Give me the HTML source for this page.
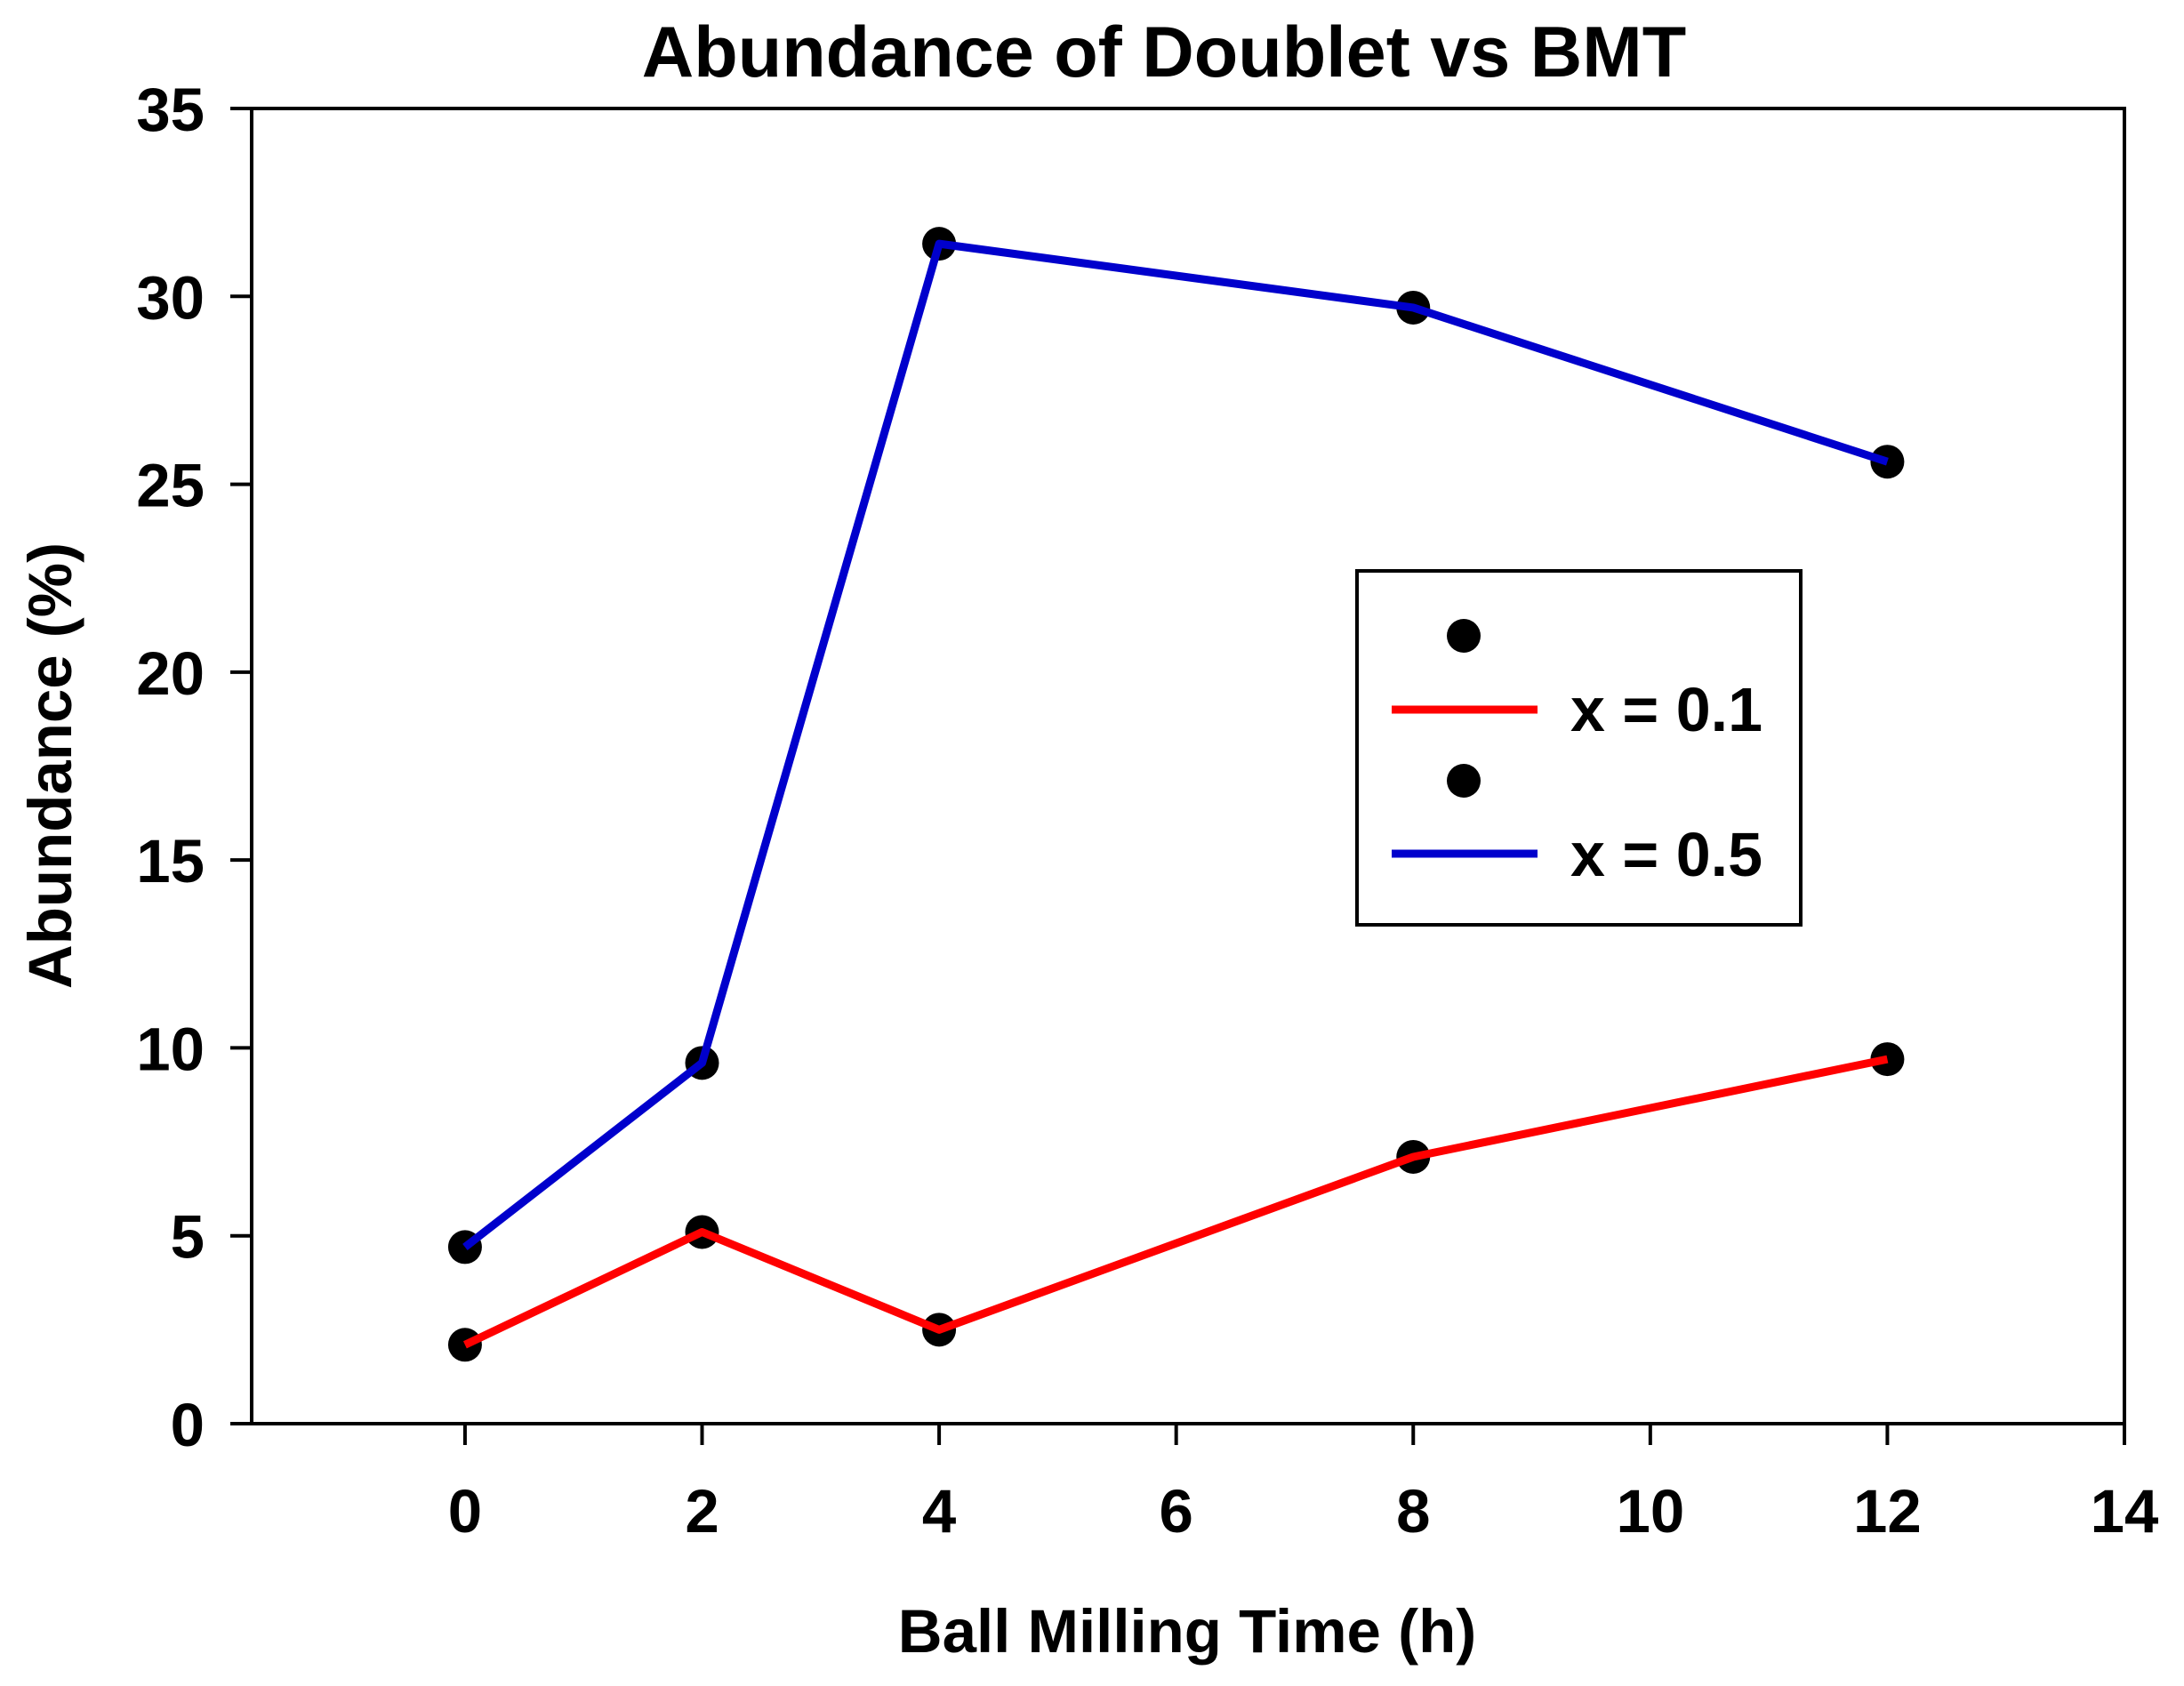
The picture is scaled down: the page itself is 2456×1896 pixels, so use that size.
<!DOCTYPE html>
<html><head><meta charset="utf-8"><style>
html,body{margin:0;padding:0;background:#fff;}
svg{display:block;font-family:"Liberation Sans",Arial,sans-serif;font-weight:bold;}
</style></head><body>
<svg id="chart" width="2456" height="1896" viewBox="0 0 2456 1896">
<text x="1309" y="86" font-size="81" text-anchor="middle">Abundance of Doublet vs BMT</text>
<text x="1335" y="1858" font-size="69" text-anchor="middle">Ball Milling Time (h)</text>
<text transform="translate(80,861) rotate(-90)" font-size="69" text-anchor="middle">Abundance (%)</text>
<g id="axes"></g>
<g id="series"></g>
<g>
<rect x="1526" y="642" width="499" height="398" fill="#fff" stroke="#000" stroke-width="4"/>
<circle cx="1646" cy="715" r="19" fill="#000"/>
<line x1="1565" y1="798" x2="1729" y2="798" stroke="#f00" stroke-width="9"/>
<text x="1766" y="822" font-size="70">x = 0.1</text>
<circle cx="1646" cy="878" r="19" fill="#000"/>
<line x1="1565" y1="960" x2="1729" y2="960" stroke="#00c" stroke-width="9"/>
<text x="1766" y="985" font-size="70">x = 0.5</text>
</g>
</svg>
<script>
const xValues = [0, 2, 4, 8, 12];
const red = [2.1, 5.1, 2.5, 7.1, 9.7];
const blue = [4.7, 9.6, 31.4, 29.7, 25.6];
const xTicks = [0, 2, 4, 6, 8, 10, 12, 14];
const yTicks = [0, 5, 10, 15, 20, 25, 30, 35];

const L = 283, R = 2389, T = 122, B = 1601;
const xMin = -1.8, xMax = 14, yMin = 0, yMax = 35;
const sx = v => L + (v - xMin) / (xMax - xMin) * (R - L);
const sy = v => B - (v - yMin) / (yMax - yMin) * (B - T);
const NS = 'http://www.w3.org/2000/svg';
function mk(tag, attrs, parent) {
  const e = document.createElementNS(NS, tag);
  for (const k in attrs) e.setAttribute(k, attrs[k]);
  parent.appendChild(e);
  return e;
}
const axes = document.getElementById('axes');
const frame = mk('rect', {x: L, y: T, width: R - L, height: B - T, fill: 'none', stroke: '#000', 'stroke-width': 4}, axes);


xTicks.forEach(t => {
  const ln = mk('line', {x1: sx(t), x2: sx(t), y1: B, y2: B + 24, stroke: '#000', 'stroke-width': 4}, axes);
  
  
  const tx = mk('text', {x: sx(t), y: B + 122, 'font-size': 69, 'text-anchor': 'middle'}, axes);
  tx.textContent = t;
  
  
});
yTicks.forEach(t => {
  const ln = mk('line', {x1: L - 24, x2: L, y1: sy(t), y2: sy(t), stroke: '#000', 'stroke-width': 4}, axes);
  
  
  const tx = mk('text', {x: 230, y: sy(t) + 25, 'font-size': 69, 'text-anchor': 'end'}, axes);
  tx.textContent = t;
  
  
});
const series = document.getElementById('series');
function drawSeries(vals, color, name) {
  const pts = vals.map((v, i) => sx(xValues[i]) + ',' + sy(v)).join(' ');
  xValues.forEach((x, i) => {
    const c = mk('circle', {cx: sx(x), cy: sy(vals[i]), r: 19, fill: '#000'}, series);
    
    
  });
  const pl = mk('polyline', {points: pts, fill: 'none', stroke: color, 'stroke-width': 9, 'stroke-linejoin': 'round'}, series);
  
  
}
drawSeries(red, '#f00', 'series-x01');
drawSeries(blue, '#00c', 'series-x05');
</script>
</body></html>
